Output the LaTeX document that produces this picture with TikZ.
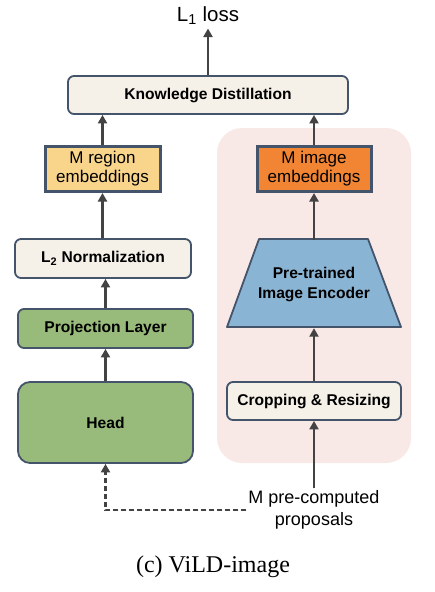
\documentclass[tikz,border=0pt]{standalone}
\usepackage{fontspec}
\setmainfont{Liberation Sans}
\newfontfamily\capfont{Liberation Serif}
\usetikzlibrary{arrows.meta}
\definecolor{bord}{RGB}{68,84,106}
\definecolor{cream}{RGB}{245,241,232}
\definecolor{yel}{RGB}{249,213,140}
\definecolor{org}{RGB}{242,133,52}
\definecolor{grn}{RGB}{152,187,123}
\definecolor{blu}{RGB}{138,180,212}
\definecolor{pnk}{RGB}{248,233,231}
\definecolor{arr}{RGB}{67,67,67}
\tikzset{
  rbox/.style={draw=bord, line width=1.8pt, rounded corners=6pt, inner sep=0pt,
    font=\fontsize{15.6}{18}\selectfont\bfseries},
  embbox/.style={draw=bord, line width=3pt, inner sep=0pt, align=center,
    font=\fontsize{17}{19}\selectfont},
  flow/.style={draw=arr, line width=2.2pt, -{Triangle[length=8.5pt,width=9pt]}},
}
\begin{document}
\begin{tikzpicture}[x=1pt,y=-1pt]
\useasboundingbox (0,0) rectangle (435,592);
% pink background
\fill[pnk, rounded corners=25pt] (217,128) rectangle (411,463);
% boxes
\node[rbox, fill=cream, minimum width=280pt, minimum height=38pt] (kd) at (208,95) {Knowledge Distillation};
\node[font=\fontsize{20.5}{22}\selectfont] (loss) at (208,16) {L\textsubscript{1} loss};
\node[embbox, fill=yel, minimum width=115pt, minimum height=45pt] (reg) at (102.5,169) {M region\\embeddings};
\node[embbox, fill=org, minimum width=114pt, minimum height=45pt] (img) at (314,169) {M image\\embeddings};
\node[rbox, fill=cream, minimum width=176pt, minimum height=39pt] (l2) at (103,258.5) {L\textsubscript{2} Normalization};
\node[rbox, fill=grn, minimum width=175pt, minimum height=39pt] (proj) at (105.5,328.5) {Projection Layer};
\node[rbox, fill=grn, rounded corners=12pt, minimum width=175pt, minimum height=81pt] (head) at (105.5,422.5) {Head};
\node[rbox, fill=cream, minimum width=174pt, minimum height=38pt] (crop) at (314,401) {Cropping \& Resizing};
% encoder trapezoid
\draw[draw=bord, line width=1.8pt, fill=blu, line join=round] (227,327) -- (259,239) -- (368,239) -- (401,327) -- cycle;
\node[align=center, inner sep=0pt, minimum width=109pt, minimum height=88pt,
  font=\fontsize{15.6}{20}\selectfont\bfseries] (enc) at (314,284) {Pre-trained\\Image Encoder};
% proposals text
\node[align=center, inner sep=2pt, font=\fontsize{18}{22}\selectfont] (prop) at (314,510) {M pre-computed\\proposals};
% caption
\node[font=\capfont\fontsize{24}{26}\selectfont] (cap) at (213,567) {(c) ViLD-image};
% connectors
\draw[flow] (kd.north) -- (loss.south);
\draw[flow] (reg.north) -- (reg.north |- kd.south);
\draw[flow] (img.north) -- (img.north |- kd.south);
\draw[flow] (l2.north -| reg.south) -- (reg.south);
\draw[flow] (enc.north -| img.south) -- (img.south);
\draw[flow] (proj.north) -- (proj.north |- l2.south);
\draw[flow] (head.north) -- (proj.south);
\draw[flow] (crop.north) -- (enc.south);
\draw[flow] (prop.north) -- (crop.south);
\draw[flow, dash pattern=on 5pt off 3pt] (prop.west) -| (head.south);
\end{tikzpicture}
\end{document}
